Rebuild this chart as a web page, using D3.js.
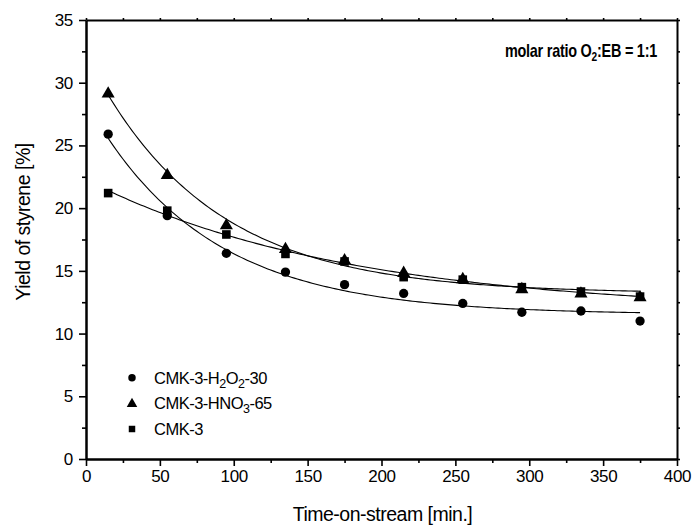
<!DOCTYPE html>
<html>
<head>
<meta charset="utf-8">
<script src="https://cdn.jsdelivr.net/npm/d3@7"></script>
<style>
  html, body { margin: 0; padding: 0; background: #fff; }
  svg { display: block; font-family: "Liberation Sans", Arial, sans-serif; }
</style>
</head>
<body>
<svg id="chart" width="696" height="526"></svg>
<script>
// ---- data ----
const times = [15, 55, 95, 135, 175, 215, 255, 295, 335, 375];
const yieldH2O2 = [25.9, 19.4, 16.4, 14.9, 13.9, 13.2, 12.4, 11.7, 11.8, 11.0];
const yieldHNO3 = [29.2, 22.7, 18.7, 16.8, 15.9, 14.9, 14.4, 13.6, 13.25, 12.95];
const yieldCMK3 = [21.2, 19.8, 17.9, 16.35, 15.75, 14.5, 14.3, 13.7, 13.35, 12.95];
const xTicks = [0, 50, 100, 150, 200, 250, 300, 350, 400];
const yTicks = [0, 5, 10, 15, 20, 25, 30, 35];

const series = [
  { name: "CMK-3", values: yieldCMK3, shape: "square" },
  { name: "CMK-3-H2O2-30", values: yieldH2O2, shape: "circle" },
  { name: "CMK-3-HNO3-65", values: yieldHNO3, shape: "triangle" }
];

// ---- exponential-decay fit y = y0 + A*exp(-x/t) (least squares, grid over t) ----
function fitExp(xs, ys) {
  let best = null;
  for (let t = 5; t <= 1500; t += 0.5) {
    const e = xs.map(v => Math.exp(-v / t));
    const n = xs.length;
    const se = d3.sum(e), sy = d3.sum(ys);
    const see = d3.sum(e, v => v * v);
    const sey = d3.sum(e.map((v, i) => v * ys[i]));
    const den = n * see - se * se;
    if (Math.abs(den) < 1e-12) continue;
    const A = (n * sey - se * sy) / den;
    const y0 = (sy - A * se) / n;
    const sse = d3.sum(xs.map((v, i) => Math.pow(y0 + A * e[i] - ys[i], 2)));
    if (!best || sse < best.sse) best = { y0, A, t, sse };
  }
  return v => best.y0 + best.A * Math.exp(-v / best.t);
}

// ---- layout ----
const svg = d3.select("#chart");
const mLeft = 86, mRight = 677, mTop = 20, mBottom = 459;
const x = d3.scaleLinear().domain([0, 400]).range([mLeft, mRight]);
const y = d3.scaleLinear().domain([0, 35]).range([mBottom, mTop]);

const tickFont = "17px";

// minor ticks
const xMinor = d3.range(25, 400, 50);
const yMinor = d3.range(2.5, 35, 5);

// bottom axis
const gB = svg.append("g").attr("transform", `translate(0,${mBottom})`);
gB.call(d3.axisBottom(x).tickValues(xTicks).tickSize(7).tickSizeOuter(0).tickPadding(4).tickFormat(d3.format("d")));
gB.append("g").call(d3.axisBottom(x).tickValues(xMinor).tickSize(4).tickSizeOuter(0).tickFormat(""));
// left axis
const gL = svg.append("g").attr("transform", `translate(${mLeft},0)`);
gL.call(d3.axisLeft(y).tickValues(yTicks).tickSize(7).tickSizeOuter(0).tickPadding(6).tickFormat(d3.format("d")));
gL.append("g").call(d3.axisLeft(y).tickValues(yMinor).tickSize(4).tickSizeOuter(0).tickFormat(""));
// top axis
const gT = svg.append("g").attr("transform", `translate(0,${mTop})`);
gT.call(d3.axisTop(x).tickValues(xTicks.concat(xMinor)).tickSize(2).tickSizeOuter(0).tickFormat(""));
// right axis
const gR = svg.append("g").attr("transform", `translate(${mRight},0)`);
gR.call(d3.axisRight(y).tickValues(yTicks.concat(yMinor)).tickSize(3).tickSizeOuter(0).tickFormat(""));

svg.selectAll(".domain").attr("stroke", "#000").attr("stroke-width", 2);
svg.selectAll(".tick line").attr("stroke", "#000").attr("stroke-width", 1.6);
svg.selectAll(".tick text").attr("fill", "#000").style("font-size", tickFont)
  .style("letter-spacing", "-0.3px")
  .style("font-family", "'Liberation Sans', Arial, sans-serif");

// axis titles
svg.append("text")
  .attr("x", (mLeft + mRight) / 2 + 1).attr("y", 521)
  .attr("text-anchor", "middle")
  .style("font-size", "19.5px").style("letter-spacing", "-0.5px")
  .text("Time-on-stream [min.]");
svg.append("text")
  .attr("transform", `translate(30,222) rotate(-90)`)
  .attr("text-anchor", "middle")
  .style("font-size", "19.5px").style("letter-spacing", "-0.5px")
  .text("Yield of styrene [%]");

// ---- fit curves ----
const curveGen = d3.line().x(d => x(d[0])).y(d => y(d[1]));
series.forEach(s => {
  const f = fitExp(times, s.values);
  const xs = d3.range(times[0], times[times.length - 1] + 0.001, 2);
  svg.append("path")
    .datum(xs.map(v => [v, f(v)]))
    .attr("d", curveGen)
    .attr("fill", "none").attr("stroke", "#000").attr("stroke-width", 1.1);
});

// ---- markers ----
const sym = {
  circle: d3.symbol().type(d3.symbolCircle).size(68),
  triangle: d3.symbol().type(d3.symbolTriangle).size(74),
  square: d3.symbol().type(d3.symbolSquare).size(74)
};
const legSym = {
  circle: d3.symbol().type(d3.symbolCircle).size(44),
  triangle: d3.symbol().type(d3.symbolTriangle).size(48),
  square: d3.symbol().type(d3.symbolSquare).size(42)
};
series.forEach(s => {
  svg.append("g").selectAll("path")
    .data(times.map((t, i) => [t, s.values[i]]))
    .join("path")
    .attr("d", sym[s.shape])
    .attr("transform", d => `translate(${x(d[0])},${y(d[1]) + (s.shape === "triangle" ? 1 : 0)})`)
    .attr("fill", "#000");
});

// ---- legend ----
const legendItems = [
  { shape: "circle", parts: [["CMK-3-H", 0], ["2", 1], ["O", 0], ["2", 1], ["-30", 0]] },
  { shape: "triangle", parts: [["CMK-3-HNO", 0], ["3", 1], ["-65", 0]] },
  { shape: "square", parts: [["CMK-3", 0]] }
];
const legY = [377.7, 402.9, 429];
legendItems.forEach((it, i) => {
  svg.append("path").attr("d", legSym[it.shape])
    .attr("transform", `translate(132,${legY[i] + (it.shape === "triangle" ? 1 : 0)})`).attr("fill", "#000");
  const t = svg.append("text").attr("x", 154).attr("y", legY[i] + 6)
    .style("font-size", "16.5px").style("letter-spacing", "-0.5px");
  let prevSub = false;
  it.parts.forEach(p => {
    const dy = (p[1] ? 4 : 0) - (prevSub ? 4 : 0);
    t.append("tspan").text(p[0])
      .attr("dy", dy)
      .style("font-size", p[1] ? "12.5px" : "16.5px");
    prevSub = !!p[1];
  });
});

// ---- annotation ----
const ann = svg.append("g").attr("transform", "translate(657,57) scale(0.78,1)");
const at = ann.append("text").attr("text-anchor", "end")
  .style("font-size", "18.5px").style("font-weight", "bold").style("letter-spacing", "-0.3px");
at.append("tspan").text("molar ratio O");
at.append("tspan").attr("dy", 4).style("font-size", "13px").text("2");
at.append("tspan").attr("dy", -4).text(":EB = 1:1");
</script>
</body>
</html>
